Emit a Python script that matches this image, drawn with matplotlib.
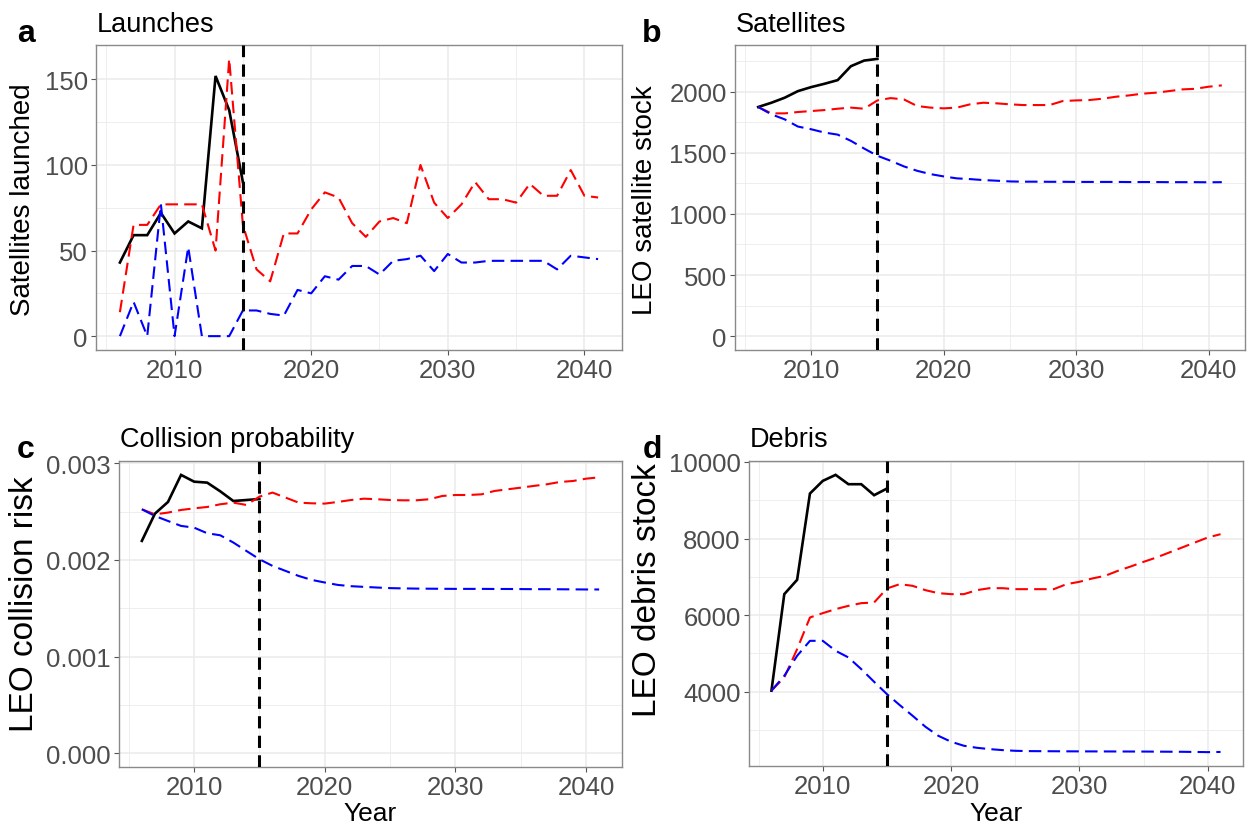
import numpy as np
import matplotlib
matplotlib.use("Agg")
import matplotlib.pyplot as plt
from matplotlib.ticker import FixedLocator

plt.rcParams['font.family'] = ['Liberation Sans', 'DejaVu Sans']

# ---------------- data ----------------
hist_years = list(range(2006, 2016))
sim_years = list(range(2006, 2042))

# a: launches
launch_actual = [43, 59, 59, 72, 60, 67, 63, 152, 132, 90]
launch_red = [14, 65, 65, 77, 77, 77, 77, 50, 162, 65, 39, 32, 60, 60, 74, 84, 81, 66,
              58, 67, 69, 66, 100, 78, 69, 77, 90, 80, 80, 78, 89, 82, 82, 97, 82, 81]
launch_blue = [0, 20, 0, 77, 0, 52, 0, 0, 0, 15, 15, 13, 12, 27, 25, 35, 33, 41,
               41, 36, 44, 45, 47, 38, 48, 43, 43, 44, 44, 44, 44, 44, 39, 47, 46, 45]

# b: satellites
sat_actual = [1875, 1910, 1951, 2005, 2038, 2065, 2095, 2209, 2255, 2269]
sat_red = [1875, 1823, 1823, 1834, 1842, 1850, 1861, 1870, 1861, 1929, 1948, 1937,
           1883, 1870, 1864, 1870, 1897, 1910, 1905, 1897, 1891, 1891, 1891, 1924,
           1929, 1932, 1943, 1959, 1970, 1984, 1992, 2005, 2019, 2024, 2041, 2052]
sat_blue = [1875, 1815, 1774, 1715, 1693, 1666, 1649, 1598, 1535, 1476, 1435, 1389,
            1353, 1326, 1307, 1291, 1285, 1277, 1272, 1266, 1264, 1264, 1263, 1263,
            1262, 1262, 1262, 1262, 1261, 1261, 1261, 1260, 1260, 1260, 1259, 1260]

# c: collision probability
coll_actual = [0.002197, 0.002479, 0.0026, 0.00288, 0.00281, 0.0028, 0.00271,
               0.00261, 0.00262, 0.00263]
coll_red = [0.002524, 0.002472, 0.00249, 0.002517, 0.002534, 0.002548, 0.002576,
            0.002593, 0.002569, 0.002655, 0.002697, 0.002645, 0.002593, 0.002586,
            0.002583, 0.0026, 0.00262, 0.002634, 0.002628, 0.00262, 0.002617,
            0.002617, 0.002628, 0.002662, 0.002672, 0.002672, 0.002679, 0.002714,
            0.002731, 0.002748, 0.002766, 0.002783, 0.002807, 0.002817, 0.002841,
            0.002855]
coll_blue = [0.002524, 0.002455, 0.002403, 0.002352, 0.002334, 0.002276, 0.002255,
             0.00218, 0.002093, 0.002007, 0.001938, 0.001886, 0.001834, 0.001793,
             0.001766, 0.001741, 0.001728, 0.001721, 0.001714, 0.001708, 0.001705,
             0.001703, 0.001702, 0.001701, 0.0017, 0.0017, 0.0017, 0.001699,
             0.001699, 0.001698, 0.001697, 0.001697, 0.001696, 0.001695, 0.001694,
             0.001694]

# d: debris
deb_actual = [4030, 6548, 6922, 9174, 9504, 9661, 9417, 9417, 9130, 9304]
deb_red = [4030, 4374, 5113, 5939, 6052, 6157, 6243, 6313, 6330, 6696, 6809, 6765,
           6652, 6574, 6548, 6548, 6652, 6704, 6704, 6678, 6678, 6678, 6678, 6809,
           6870, 6957, 7026, 7157, 7270, 7391, 7504, 7635, 7765, 7896, 8026, 8113]
deb_blue = [4030, 4417, 4939, 5330, 5330, 5070, 4896, 4591, 4261, 3939, 3652, 3374,
            3087, 2852, 2696, 2591, 2539, 2504, 2478, 2460, 2452, 2450, 2448, 2446,
            2445, 2444, 2443, 2442, 2441, 2440, 2438, 2436, 2434, 2430, 2425, 2430]

policy_year = 2015

panels = [
    dict(letter='a', title='Launches', ylabel='Satellites launched',
         actual=launch_actual, red=launch_red, blue=launch_blue,
         yticks=[0, 50, 100, 150], yminor=[25, 75, 125], fmt='{:.0f}', zero=True,
         rect=(96, 46, 622, 351), ylab=(23, 200, 20)),
    dict(letter='b', title='Satellites', ylabel='LEO satellite stock',
         actual=sat_actual, red=sat_red, blue=sat_blue,
         yticks=[0, 500, 1000, 1500, 2000], yminor=[250, 750, 1250, 1750, 2250],
         fmt='{:.0f}', zero=True, rect=(735, 46, 1245, 351), ylab=(645, 200, 20)),
    dict(letter='c', title='Collision probability', ylabel='LEO collision risk',
         actual=coll_actual, red=coll_red, blue=coll_blue,
         yticks=[0, 0.001, 0.002, 0.003], yminor=[0.0005, 0.0015, 0.0025],
         fmt='{:.3f}', zero=True, rect=(119, 462, 622, 768), ylab=(25, 604, 24)),
    dict(letter='d', title='Debris', ylabel='LEO debris stock',
         actual=deb_actual, red=deb_red, blue=deb_blue,
         yticks=[4000, 6000, 8000, 10000], yminor=[3000, 5000, 7000, 9000],
         fmt='{:.0f}', zero=False, rect=(749, 462, 1243, 767), ylab=(648, 590, 24)),
]

W, H = 1252, 829
fig = plt.figure(figsize=(W / 100, H / 100), dpi=100)

tick_col = '#4D4D4D'
grid_col = '#EBEBEB'
border_col = '#8A8A8A'

x0, x1 = min(sim_years), max(sim_years)
xpad = 0.05 * (x1 - x0)

for i, p in enumerate(panels):
    l, t, r, b = p['rect']
    ax = fig.add_axes([l / W, 1 - b / H, (r - l) / W, (b - t) / H])
    allv = p['actual'] + p['red'] + p['blue'] + ([0] if p['zero'] else [])
    lo, hi = min(allv), max(allv)
    pad = 0.05 * (hi - lo)
    ax.set_xlim(x0 - xpad, x1 + xpad)
    ax.set_ylim(lo - pad, hi + pad)

    ax.xaxis.set_major_locator(FixedLocator([2010, 2020, 2030, 2040]))
    ax.xaxis.set_minor_locator(FixedLocator([2005, 2015, 2025, 2035]))
    ax.yaxis.set_major_locator(FixedLocator(p['yticks']))
    ax.yaxis.set_minor_locator(FixedLocator(p['yminor']))
    ax.set_yticklabels([p['fmt'].format(v) for v in p['yticks']])
    ax.set_xticklabels(['2010', '2020', '2030', '2040'])

    ax.grid(which='major', color=grid_col, linewidth=1.1, zorder=0)
    ax.grid(which='minor', color=grid_col, linewidth=0.6, zorder=0)
    ax.set_axisbelow(True)
    for s in ax.spines.values():
        s.set_color(border_col)
        s.set_linewidth(1.0)
    ax.tick_params(which='major', direction='out', length=3.5, width=0.8,
                   color='#555555', labelcolor=tick_col, labelsize=18.5, pad=2.5)
    ax.tick_params(which='minor', length=0)

    ax.plot(hist_years, p['actual'], color='black', linewidth=1.9,
            solid_joinstyle='miter', zorder=3)
    ax.plot(sim_years, p['red'], color='#FF0000', linewidth=1.5,
            linestyle=(0, (6, 3)), zorder=4)
    ax.plot(sim_years, p['blue'], color='#0000FF', linewidth=1.5,
            linestyle=(0, (6, 3)), zorder=5)
    ax.axvline(policy_year, color='black', linewidth=2.2,
               linestyle=(0, (4, 2.4)), zorder=6)

    if i >= 2:
        fig.text(((l + r) / 2) / W, 1 - 814 / H, 'Year', ha='center', va='center',
                 fontsize=19, color='black')
    yx, yy, yfs = p['ylab']
    fig.text(yx / W, 1 - yy / H, p['ylabel'], rotation=90,
             ha='center', va='center', fontsize=yfs, color='black')
    ty = 32 if i < 2 else 447
    fig.text((l + 1) / W, 1 - ty / H, p['title'], ha='left', va='baseline',
             fontsize=19.5, color='black')
    lx = 26 if i in (0, 2) else 652
    ly = 42 if i < 2 else 458
    fig.text(lx / W, 1 - ly / H, p['letter'], ha='center', va='baseline',
             fontsize=23, fontweight='bold', color='black')

fig.savefig('out.png', dpi=100)
